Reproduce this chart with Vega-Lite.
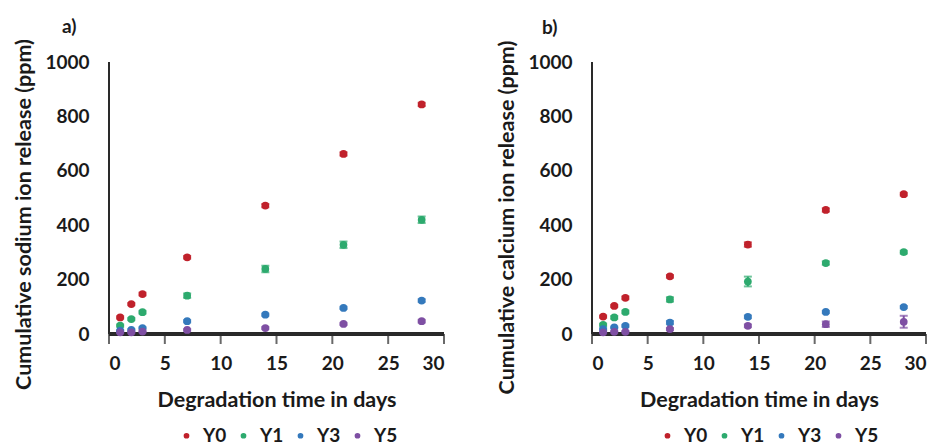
{
  "$schema": "https://vega.github.io/schema/vega-lite/v6.json",
  "padding": {"left": 13, "top": 17, "right": 1, "bottom": 0},
  "background": "white",
  "datasets": {
    "xticks": [{"t": 0}, {"t": 5}, {"t": 10}, {"t": 15}, {"t": 20}, {"t": 25}, {"t": 30}],
    "sodium": [
      {"group": "Y0", "day": 1, "value": 61, "err": 4},
      {"group": "Y0", "day": 2, "value": 110, "err": 4},
      {"group": "Y0", "day": 3, "value": 147, "err": 5},
      {"group": "Y0", "day": 7, "value": 282, "err": 5},
      {"group": "Y0", "day": 14, "value": 472, "err": 6},
      {"group": "Y0", "day": 21, "value": 662, "err": 6},
      {"group": "Y0", "day": 28, "value": 844, "err": 6},
      {"group": "Y1", "day": 1, "value": 31, "err": 4},
      {"group": "Y1", "day": 2, "value": 55, "err": 4},
      {"group": "Y1", "day": 3, "value": 80, "err": 5},
      {"group": "Y1", "day": 7, "value": 141, "err": 8},
      {"group": "Y1", "day": 14, "value": 239, "err": 12},
      {"group": "Y1", "day": 21, "value": 328, "err": 12},
      {"group": "Y1", "day": 28, "value": 420, "err": 12},
      {"group": "Y3", "day": 1, "value": 12, "err": 3},
      {"group": "Y3", "day": 2, "value": 15, "err": 3},
      {"group": "Y3", "day": 3, "value": 22, "err": 3},
      {"group": "Y3", "day": 7, "value": 47, "err": 4},
      {"group": "Y3", "day": 14, "value": 71, "err": 4},
      {"group": "Y3", "day": 21, "value": 96, "err": 4},
      {"group": "Y3", "day": 28, "value": 123, "err": 5},
      {"group": "Y5", "day": 1, "value": 6, "err": 3},
      {"group": "Y5", "day": 2, "value": 6, "err": 3},
      {"group": "Y5", "day": 3, "value": 9, "err": 3},
      {"group": "Y5", "day": 7, "value": 15, "err": 3},
      {"group": "Y5", "day": 14, "value": 22, "err": 4},
      {"group": "Y5", "day": 21, "value": 37, "err": 4},
      {"group": "Y5", "day": 28, "value": 47, "err": 5}
    ],
    "calcium": [
      {"group": "Y0", "day": 1, "value": 64, "err": 4},
      {"group": "Y0", "day": 2, "value": 103, "err": 4},
      {"group": "Y0", "day": 3, "value": 133, "err": 5},
      {"group": "Y0", "day": 7, "value": 212, "err": 5},
      {"group": "Y0", "day": 14, "value": 329, "err": 8},
      {"group": "Y0", "day": 21, "value": 456, "err": 6},
      {"group": "Y0", "day": 28, "value": 514, "err": 5},
      {"group": "Y1", "day": 1, "value": 34, "err": 4},
      {"group": "Y1", "day": 2, "value": 61, "err": 5},
      {"group": "Y1", "day": 3, "value": 81, "err": 5},
      {"group": "Y1", "day": 7, "value": 127, "err": 8},
      {"group": "Y1", "day": 14, "value": 193, "err": 18},
      {"group": "Y1", "day": 21, "value": 261, "err": 6},
      {"group": "Y1", "day": 28, "value": 301, "err": 5},
      {"group": "Y3", "day": 1, "value": 18, "err": 3},
      {"group": "Y3", "day": 2, "value": 24, "err": 3},
      {"group": "Y3", "day": 3, "value": 30, "err": 4},
      {"group": "Y3", "day": 7, "value": 42, "err": 6},
      {"group": "Y3", "day": 14, "value": 63, "err": 5},
      {"group": "Y3", "day": 21, "value": 81, "err": 4},
      {"group": "Y3", "day": 28, "value": 99, "err": 4},
      {"group": "Y5", "day": 1, "value": 6, "err": 3},
      {"group": "Y5", "day": 2, "value": 8, "err": 3},
      {"group": "Y5", "day": 3, "value": 8, "err": 3},
      {"group": "Y5", "day": 7, "value": 18, "err": 4},
      {"group": "Y5", "day": 14, "value": 30, "err": 5},
      {"group": "Y5", "day": 21, "value": 36, "err": 10},
      {"group": "Y5", "day": 28, "value": 45, "err": 22}
    ]
  },
  "config": {
    "view": {"stroke": null},
    "font": "Lato",
    "axis": {
      "grid": false,
      "labelFont": "Lato",
      "labelFontSize": 19,
      "labelFontWeight": "bold",
      "labelColor": "#1a1a1a",
      "titleFont": "Lato",
      "titleFontSize": 21.5,
      "titleFontWeight": "bold",
      "titleColor": "#1a1a1a"
    },
    "legend": {
      "orient": "none",
      "direction": "horizontal",
      "symbolType": "circle",
      "symbolSize": 18,
      "symbolOpacity": 1,
      "labelFont": "Lato",
      "labelFontSize": 19,
      "labelFontWeight": "bold",
      "labelColor": "#1a1a1a",
      "columnPadding": 7,
      "labelOffset": 7
    },
    "title": {
      "anchor": "start",
      "font": "Lato",
      "fontSize": 19,
      "fontWeight": "bold",
      "color": "#1a1a1a",
      "offset": 2
    }
  },
  "resolve": {"scale": {"color": "independent"}, "legend": {"color": "independent"}},
  "spacing": 50,
  "hconcat": [
    {
      "title": {"text": "a)", "dx": 48},
      "width": 335,
      "height": 272,
      "layer": [
        {
          "data": {"name": "sodium"},
          "mark": {"type": "rule", "stroke": "#2a2a2a", "strokeWidth": 2.5},
          "encoding": {"x": {"datum": 0}, "x2": {"datum": 30}, "y": {"datum": 0}}
        },
        {
          "data": {"name": "sodium"},
          "mark": {"type": "rule", "stroke": "#2a2a2a", "strokeWidth": 2},
          "encoding": {"x": {"datum": 0}, "y": {"datum": 0}, "y2": {"datum": 1000}}
        },
        {
          "data": {"name": "xticks"},
          "mark": {"type": "tick", "orient": "vertical", "color": "#2a2a2a", "thickness": 2, "size": 10, "yOffset": 5},
          "encoding": {"x": {"field": "t", "type": "quantitative"}, "y": {"datum": 0}}
        },
        {
          "data": {"name": "sodium"},
          "transform": [
            {"calculate": "datum.value - datum.err", "as": "lo"},
            {"calculate": "datum.value + datum.err", "as": "hi"}
          ],
          "mark": {"type": "errorbar", "ticks": {"size": 8}, "thickness": 2},
          "encoding": {
            "x": {"field": "day", "type": "quantitative", "scale": {"domain": [0, 30]},
                  "axis": {"values": [0, 5, 10, 15, 20, 25, 30], "format": "d", "title": "Degradation time in days",
                           "domain": false, "ticks": false, "labelPadding": 20, "titlePadding": 16}},
            "y": {"field": "lo", "type": "quantitative", "scale": {"domain": [0, 1000]},
                  "axis": {"values": [0, 200, 400, 600, 800, 1000], "format": "d", "title": "Cumulative sodium ion release (ppm)",
                           "domain": false, "ticks": false, "labelPadding": 20, "titlePadding": 9, "titleY": 152}},
            "y2": {"field": "hi"},
            "color": {"field": "group", "type": "nominal", "title": null,
                      "scale": {"domain": ["Y0", "Y1", "Y3", "Y5"], "range": ["#C0212B", "#2DAA6E", "#3479BC", "#7E4FA3"]},
                      "legend": {"legendX": 68, "legendY": 364}}
          }
        },
        {
          "data": {"name": "sodium"},
          "mark": {"type": "point", "filled": true, "shape": "circle", "size": 60, "opacity": 1},
          "encoding": {
            "x": {"field": "day", "type": "quantitative"},
            "y": {"field": "value", "type": "quantitative"},
            "color": {"field": "group", "type": "nominal"}
          }
        }
      ]
    },
    {
      "title": {"text": "b)", "dx": 45},
      "width": 334,
      "height": 272,
      "layer": [
        {
          "data": {"name": "calcium"},
          "mark": {"type": "rule", "stroke": "#2a2a2a", "strokeWidth": 2.5},
          "encoding": {"x": {"datum": 0}, "x2": {"datum": 30}, "y": {"datum": 0}}
        },
        {
          "data": {"name": "calcium"},
          "mark": {"type": "rule", "stroke": "#2a2a2a", "strokeWidth": 2},
          "encoding": {"x": {"datum": 0}, "y": {"datum": 0}, "y2": {"datum": 1000}}
        },
        {
          "data": {"name": "xticks"},
          "mark": {"type": "tick", "orient": "vertical", "color": "#2a2a2a", "thickness": 2, "size": 10, "yOffset": 5},
          "encoding": {"x": {"field": "t", "type": "quantitative"}, "y": {"datum": 0}}
        },
        {
          "data": {"name": "calcium"},
          "transform": [
            {"calculate": "datum.value - datum.err", "as": "lo"},
            {"calculate": "datum.value + datum.err", "as": "hi"}
          ],
          "mark": {"type": "errorbar", "ticks": {"size": 8}, "thickness": 2},
          "encoding": {
            "x": {"field": "day", "type": "quantitative", "scale": {"domain": [0, 30]},
                  "axis": {"values": [0, 5, 10, 15, 20, 25, 30], "format": "d", "title": "Degradation time in days",
                           "domain": false, "ticks": false, "labelPadding": 20, "titlePadding": 16}},
            "y": {"field": "lo", "type": "quantitative", "scale": {"domain": [0, 1000]},
                  "axis": {"values": [0, 200, 400, 600, 800, 1000], "format": "d", "title": "Cumulative calcium ion release (ppm)",
                           "domain": false, "ticks": false, "labelPadding": 20, "titlePadding": 9, "titleY": 155}},
            "y2": {"field": "hi"},
            "color": {"field": "group", "type": "nominal", "title": null,
                      "scale": {"domain": ["Y0", "Y1", "Y3", "Y5"], "range": ["#C0212B", "#2DAA6E", "#3479BC", "#7E4FA3"]},
                      "legend": {"legendX": 66, "legendY": 364}}
          }
        },
        {
          "data": {"name": "calcium"},
          "mark": {"type": "point", "filled": true, "shape": "circle", "size": 60, "opacity": 1},
          "encoding": {
            "x": {"field": "day", "type": "quantitative"},
            "y": {"field": "value", "type": "quantitative"},
            "color": {"field": "group", "type": "nominal"}
          }
        }
      ]
    }
  ]
}
